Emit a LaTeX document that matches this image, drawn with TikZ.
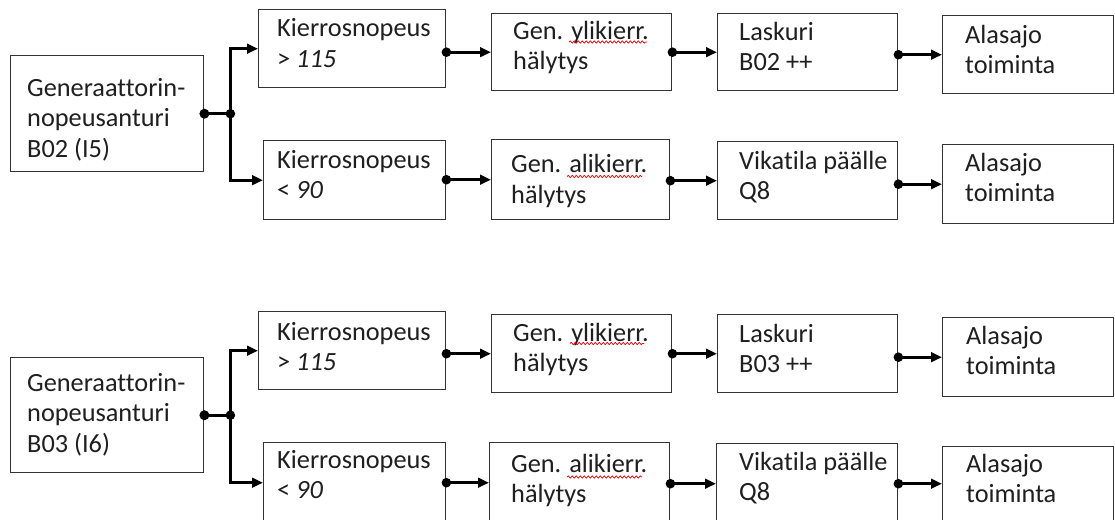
\documentclass[tikz,border=0pt]{standalone}
\usepackage{fontspec}
\setmainfont{Carlito}[Ligatures={NoCommon}]
\usetikzlibrary{arrows.meta,decorations.pathmorphing}
\tikzset{
  box/.style={draw=black!80, line width=1.4pt, inner sep=0pt, fill=white, anchor=north west},
  txt/.style={anchor=north west, inner sep=0pt, align=left, font=\fontsize{26.3}{30.5}\selectfont, text=black!88},
  conn/.style={line width=2.9pt, draw=black, -{Triangle[length=11pt,width=9.5pt]}},
  plainconn/.style={line width=2.9pt, draw=black},
  spell/.style={draw=red!85!black, line width=0.7pt, decorate, decoration={snake, amplitude=1.1pt, segment length=4pt}}
}
% name, x, y, w, h, dx, first-baseline offset, text
\newcommand\mybox[8]{%
  \node[box, minimum width=#4pt, minimum height=#5pt] (#1) at (#2,#3) {};
  \node[txt] (#1t) at ([xshift=#6pt, yshift={-#7pt+21.35pt}]#1.north west) {\strut #8};
}
\begin{document}
\begin{tikzpicture}[x=1pt, y=-1pt]
\useasboundingbox (0,0) rectangle (1115,519);
\clip (0,0) rectangle (1115,519);
\fill[white] (0,0) rectangle (1115,519);

% ---- top group
\mybox{S1}{10}{55}{193}{116}{17}{41}{Generaattorin-\\nopeusanturi\\B02 (I5)}
\mybox{A1}{258}{9}{187}{78}{19}{27.7}{Kierrosnopeus\\> \textit{115}}
\mybox{B1}{263}{140}{182}{79}{14}{28}{Kierrosnopeus\\< \textit{90}}
\mybox{A2}{491}{13}{180}{77}{22}{26}{Gen. ylikierr.\\hälytys}
\mybox{B2}{491}{139}{178}{80}{20}{33.5}{Gen. alikierr.\\hälytys}
\mybox{A3}{717}{13}{180}{77}{22}{27}{Laskuri\\B02 ++}
\mybox{B3}{717}{141}{180}{78}{22}{28}{Vikatila päälle\\Q8}
\mybox{A4}{942}{15}{171}{78}{23}{28}{Alasajo\\toiminta}
\mybox{B4}{942}{144}{171}{79}{23}{27}{Alasajo\\toiminta}

% ---- bottom group
\mybox{S2}{10}{357}{193}{115}{17}{34}{Generaattorin-\\nopeusanturi\\B03 (I6)}
\mybox{C1}{258}{311}{187}{78}{19}{29}{Kierrosnopeus\\> \textit{115}}
\mybox{D1}{263}{442}{182}{80}{14}{26}{Kierrosnopeus\\< \textit{90}}
\mybox{C2}{491}{314}{180}{78}{22}{27}{Gen. ylikierr.\\hälytys}
\mybox{D2}{489}{442}{180}{80}{22}{30}{Gen. alikierr.\\hälytys}
\mybox{C3}{717}{314}{180}{78}{22}{28}{Laskuri\\B03 ++}
\mybox{D3}{716}{443}{181}{80}{23}{27}{Vikatila päälle\\Q8}
\mybox{C4}{942}{317}{171}{79}{24}{27}{Alasajo\\toiminta}
\mybox{D4}{942}{446}{171}{80}{24}{26}{Alasajo\\toiminta}

% spell-check underlines
\draw[spell] (569,42) -- (647,42);
\draw[spell] (567,176.5) -- (642,176.5);
\draw[spell] (570,343.5) -- (644,343.5);
\draw[spell] (567,477) -- (642,477);

% ---- connectors, top group
\coordinate (j1) at ([xshift=26pt]S1.east);
\draw[plainconn] (S1.east) -- (j1);
\draw[conn] (j1) |- (A1.west);
\draw[conn] (j1) |- (B1.west);
\fill (S1.east) circle (5pt);
\fill (j1) circle (4.8pt);

\foreach \p/\n in {A1/A2, A2/A3, A3/A4, B1/B2, B2/B3, B3/B4}{
  \draw[conn] (\n.west -| \p.east) -- (\n.west);
  \fill (\n.west -| \p.east) circle (4.8pt);
}

% ---- connectors, bottom group
\coordinate (j2) at ([xshift=26pt]S2.east);
\draw[plainconn] (S2.east) -- (j2);
\draw[conn] (j2) |- (C1.west);
\draw[conn] (j2) |- (D1.west);
\fill (S2.east) circle (5pt);
\fill (j2) circle (4.8pt);

\foreach \p/\n in {C1/C2, C2/C3, C3/C4, D1/D2, D2/D3}{
  \draw[conn] (\n.west -| \p.east) -- (\n.west);
  \fill (\n.west -| \p.east) circle (4.8pt);
}
\draw[conn] (D3.east) -- (D3.east -| D4.west);
\fill (D3.east) circle (4.8pt);
\end{tikzpicture}
\end{document}
